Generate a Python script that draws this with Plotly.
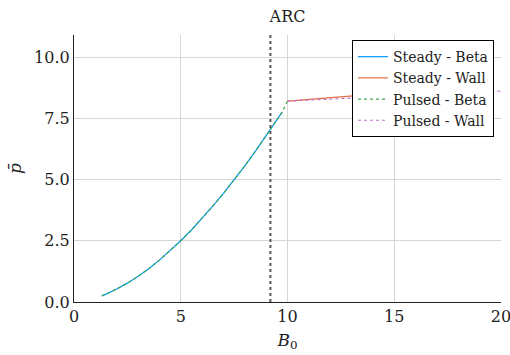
import plotly.graph_objects as go

# Data
beta_x = [1.3, 1.5, 2.0, 2.5, 3.0, 3.5, 4.0, 4.5, 5.0, 5.5, 6.0, 6.5, 7.0, 7.5, 8.0, 8.5, 9.0, 9.5, 9.75]
beta_y = [0.25, 0.32, 0.53, 0.77, 1.05, 1.36, 1.71, 2.09, 2.50, 2.94, 3.41, 3.91, 4.43, 4.98, 5.56, 6.16, 6.79, 7.42, 7.75]
pulsed_beta_end_x = [10.0]
pulsed_beta_end_y = [8.2]
steady_wall_x = [10.0, 13.2, 16.0]
steady_wall_y = [8.2, 8.42, 8.62]
pulsed_wall_x = [10.0, 13.2, 20.0]
pulsed_wall_y = [8.2, 8.33, 8.61]
threshold_x = 9.2

FONT = "DejaVu Serif"

fig = go.Figure()
fig.add_trace(go.Scatter(x=beta_x, y=beta_y, mode="lines",
                         name="Steady - Beta",
                         line=dict(color="#009AFA", width=1.2)))
fig.add_trace(go.Scatter(x=steady_wall_x, y=steady_wall_y, mode="lines",
                         name="Steady - Wall", line=dict(color="#E36F47", width=1.2)))
fig.add_trace(go.Scatter(x=beta_x + pulsed_beta_end_x, y=beta_y + pulsed_beta_end_y, mode="lines",
                         name="Pulsed - Beta",
                         line=dict(color="#3EA44E", width=1.2, dash="3px,3px")))
fig.add_trace(go.Scatter(x=pulsed_wall_x, y=pulsed_wall_y, mode="lines",
                         name="Pulsed - Wall",
                         line=dict(color="#C371D2", width=1.2, dash="3px,3px")))
fig.add_trace(go.Scatter(x=[threshold_x, threshold_x], y=[0, 10.9], mode="lines",
                         showlegend=False, line=dict(color="#555555", width=2, dash="dot")))

fig.update_layout(
    width=510, height=355,
    margin=dict(l=74, r=9, t=35, b=53, autoexpand=False),
    paper_bgcolor="white", plot_bgcolor="white",
    font=dict(family=FONT, size=16, color="#222222"),
    title=dict(text="ARC", x=(74 + 501) / 2 / 510, xanchor="center", y=1 - 16 / 355,
               yanchor="middle", font=dict(family=FONT, size=16)),
    showlegend=True,
    legend=dict(x=0.9836, xanchor="right", y=0.981, yanchor="top",
                bgcolor="white", bordercolor="black", borderwidth=1,
                font=dict(family=FONT, size=14), tracegroupgap=0, itemwidth=30),
    xaxis=dict(range=[0, 20], tickvals=[0, 5, 10, 15, 20], ticktext=["0", "5", "10", "15", "20"],
               showgrid=True, gridcolor="#d6d6d6", gridwidth=1, automargin=False,
               showline=True, linecolor="#222222", linewidth=1.2, zeroline=False,
               ticks="", ticklabeloverflow="allow",
               title=dict(text="<i>B</i><sub>0</sub>", standoff=8,
                          font=dict(family=FONT, size=17)),
               tickfont=dict(family=FONT, size=16)),
    yaxis=dict(range=[0, 10.9], tickvals=[0, 2.5, 5, 7.5, 10],
               ticktext=["0.0", "2.5", "5.0", "7.5", "10.0"],
               showgrid=True, gridcolor="#d6d6d6", gridwidth=1, automargin=False,
               showline=True, linecolor="#222222", linewidth=1.2, zeroline=False,
               ticks="", ticklabeloverflow="allow",
               title=dict(text="<i>p̄</i>", standoff=8,
                          font=dict(family=FONT, size=17)),
               tickfont=dict(family=FONT, size=16)),
)

fig.write_html("out.html", config={"displayModeBar": False},
               post_script="document.body.style.margin='0';")
